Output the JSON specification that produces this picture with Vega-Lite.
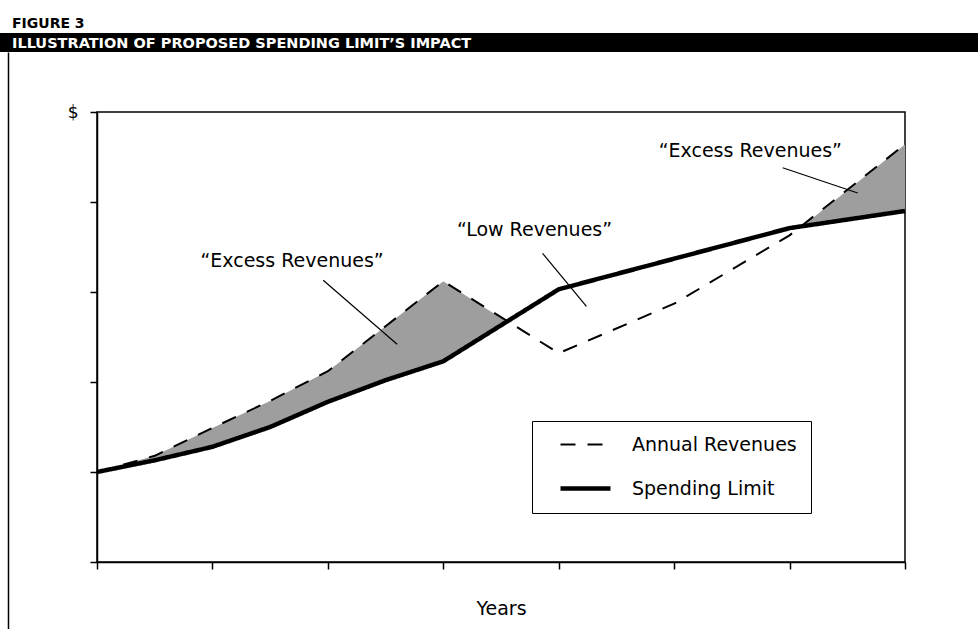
{
  "$schema": "https://vega.github.io/schema/vega-lite/v6.json",
  "padding": {"top": 16, "left": 0, "right": 0, "bottom": 0},
  "background": "white",
  "spacing": 0,
  "config": {"view": {"stroke": null}, "font": "DejaVu Sans"},
  "datasets": {
    "series": [
      {"series": "Annual Revenues", "year": 0, "value": 1.0},
      {"series": "Annual Revenues", "year": 0.5, "value": 1.18},
      {"series": "Annual Revenues", "year": 1, "value": 1.49},
      {"series": "Annual Revenues", "year": 1.5, "value": 1.79},
      {"series": "Annual Revenues", "year": 2, "value": 2.12},
      {"series": "Annual Revenues", "year": 2.5, "value": 2.62},
      {"series": "Annual Revenues", "year": 3, "value": 3.12},
      {"series": "Annual Revenues", "year": 4, "value": 2.32},
      {"series": "Annual Revenues", "year": 5, "value": 2.87},
      {"series": "Annual Revenues", "year": 6, "value": 3.63},
      {"series": "Annual Revenues", "year": 7, "value": 4.64},
      {"series": "Spending Limit", "year": 0, "value": 1.0},
      {"series": "Spending Limit", "year": 0.5, "value": 1.13},
      {"series": "Spending Limit", "year": 1, "value": 1.28},
      {"series": "Spending Limit", "year": 1.5, "value": 1.5},
      {"series": "Spending Limit", "year": 2, "value": 1.78},
      {"series": "Spending Limit", "year": 2.5, "value": 2.02},
      {"series": "Spending Limit", "year": 3, "value": 2.23},
      {"series": "Spending Limit", "year": 4, "value": 3.03},
      {"series": "Spending Limit", "year": 5, "value": 3.37},
      {"series": "Spending Limit", "year": 6, "value": 3.71},
      {"series": "Spending Limit", "year": 7, "value": 3.9}
    ],
    "gap": [
      {"seg": "A", "year": 0, "low": 1.0, "value": 1.0},
      {"seg": "A", "year": 0.5, "low": 1.13, "value": 1.18},
      {"seg": "A", "year": 1, "low": 1.28, "value": 1.49},
      {"seg": "A", "year": 1.5, "low": 1.5, "value": 1.79},
      {"seg": "A", "year": 2, "low": 1.78, "value": 2.12},
      {"seg": "A", "year": 2.5, "low": 2.02, "value": 2.62},
      {"seg": "A", "year": 3, "low": 2.23, "value": 3.12},
      {"seg": "A", "year": 3.55, "low": 2.67, "value": 2.67},
      {"seg": "B", "year": 6.1, "low": 3.72, "value": 3.72},
      {"seg": "B", "year": 7, "low": 3.9, "value": 4.64}
    ],
    "labels": [
      {"year": 1.69, "value": 3.34, "label": "“Excess Revenues”"},
      {"year": 3.79, "value": 3.69, "label": "“Low Revenues”"},
      {"year": 5.66, "value": 4.57, "label": "“Excess Revenues”"}
    ],
    "pointers": [
      {"year": 1.96, "value": 3.13, "year2": 2.60, "value2": 2.42},
      {"year": 3.86, "value": 3.43, "year2": 4.24, "value2": 2.84},
      {"year": 5.94, "value": 4.38, "year2": 6.59, "value2": 4.10}
    ]
  },
  "vconcat": [
    {
      "width": 978,
      "height": 19,
      "view": {"fill": "black", "stroke": null},
      "title": {
        "text": "FIGURE 3",
        "subtitle": "ILLUSTRATION OF PROPOSED SPENDING LIMIT’S IMPACT",
        "anchor": "start",
        "frame": "group",
        "orient": "top",
        "offset": -17,
        "dx": 12,
        "font": "DejaVu Sans",
        "fontSize": 14,
        "fontWeight": "bold",
        "color": "black",
        "subtitleFont": "DejaVu Sans",
        "subtitleFontSize": 14.5,
        "subtitleFontWeight": "bold",
        "subtitleColor": "white",
        "subtitlePadding": 6
      },
      "data": {"values": [{"v": 0}]},
      "mark": {"type": "point", "opacity": 0},
      "encoding": {}
    },
    {
      "spacing": 58,
      "hconcat": [
        {
          "width": 8,
          "height": 577,
          "data": {"values": [{"v": 0.5}]},
          "mark": {"type": "point", "opacity": 0, "size": 1},
          "encoding": {
            "y": {"field": "v", "type": "quantitative", "scale": {"domain": [0, 1]}, "axis": {"orient": "right", "ticks": false, "labels": false, "title": null, "grid": false, "domainColor": "black", "domainWidth": 1.5}}
          }
        },
        {
          "spacing": 0,
          "vconcat": [
            {
              "width": 8,
              "height": 50,
              "data": {"values": [{"v": 0.5}]},
              "mark": {"type": "point", "opacity": 0, "size": 1},
              "encoding": {}
            },
            {
              "width": 808,
              "height": 450,
              "view": {"stroke": "black", "strokeWidth": 1.5},
              "encoding": {
                "x": {
                  "field": "year", "type": "quantitative",
                  "scale": {"domain": [0, 7], "nice": false},
                  "axis": {"values": [0, 1, 2, 3, 4, 5, 6, 7], "labels": false, "tickSize": 7, "tickWidth": 1.5, "tickColor": "black", "domainColor": "black", "domainWidth": 1.5, "grid": false, "title": "Years", "titleFont": "DejaVu Sans", "titleFontSize": 19, "titleFontWeight": "normal", "titleColor": "black", "titlePadding": 30}
                },
                "y": {
                  "field": "value", "type": "quantitative",
                  "scale": {"domain": [0, 5], "nice": false, "zero": false},
                  "axis": {"values": [0, 1, 2, 3, 4, 5], "labelExpr": "datum.value == 5 ? '$' : ''", "tickSize": 7, "tickWidth": 1.5, "tickColor": "black", "domainColor": "black", "domainWidth": 1.5, "grid": false, "title": null, "labelFont": "DejaVu Sans", "labelFontSize": 17, "labelColor": "black", "labelPadding": 12}
                }
              },
              "layer": [
                {
                  "data": {"name": "gap"},
                  "mark": {"type": "area", "color": "#9e9e9e", "opacity": 1},
                  "encoding": {
                    "y2": {"field": "low"},
                    "detail": {"field": "seg", "type": "nominal"}
                  }
                },
                {
                  "data": {"name": "series"},
                  "mark": {"type": "line", "color": "black", "strokeCap": "butt"},
                  "encoding": {
                    "strokeDash": {
                      "field": "series", "type": "nominal",
                      "scale": {"domain": ["Annual Revenues", "Spending Limit"], "range": [[15, 12], [1, 0]]},
                      "legend": {
                        "title": null, "orient": "none", "legendX": 532, "legendY": 388,
                        "strokeColor": "black", "fillColor": "white", "padding": 14, "rowPadding": 24,
                        "labelFont": "DejaVu Sans", "labelFontSize": 19, "labelColor": "black", "labelOffset": 37, "labelLimit": 400,
                        "symbolType": "stroke", "symbolSize": 2500, "symbolOffset": 30, "symbolStrokeColor": "black",
                        "encode": {
                          "symbols": {"update": {"strokeWidth": {"signal": "datum.value === 'Spending Limit' ? 4.5 : 2"}}}
                        }
                      }
                    },
                    "strokeWidth": {"condition": {"test": "datum.series === 'Spending Limit'", "value": 4.5}, "value": 2}
                  }
                },
                {
                  "data": {"name": "pointers"},
                  "mark": {"type": "rule", "color": "black", "strokeWidth": 1.2},
                  "encoding": {
                    "x2": {"field": "year2"},
                    "y2": {"field": "value2"}
                  }
                },
                {
                  "data": {"name": "labels"},
                  "mark": {"type": "text", "font": "DejaVu Sans", "fontSize": 19, "color": "black", "align": "center", "baseline": "middle"},
                  "encoding": {
                    "text": {"field": "label"}
                  }
                }
              ]
            }
          ]
        }
      ]
    }
  ]
}
